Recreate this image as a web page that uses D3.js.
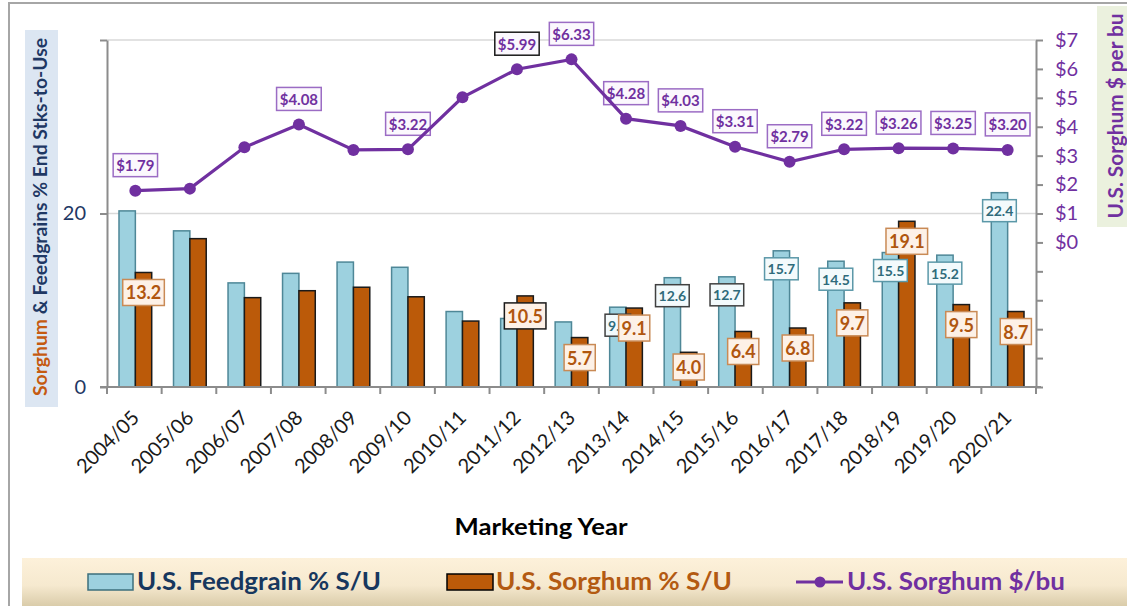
<!DOCTYPE html>
<html>
<head>
<meta charset="utf-8">
<script src="https://cdn.jsdelivr.net/npm/d3@7"></script>
<style>
  html, body { margin: 0; padding: 0; background: #fff; }
  svg { display: block; font-family: Lato, "Open Sans", sans-serif; }
</style>
</head>
<body>
<svg id="chart" width="1127" height="606"></svg>
<script>
const categories = ['2004/05','2005/06','2006/07','2007/08','2008/09','2009/10','2010/11','2011/12','2012/13','2013/14','2014/15','2015/16','2016/17','2017/18','2018/19','2019/20','2020/21'];
const feedgrainSU = [20.3, 18.0, 12.0, 13.1, 14.4, 13.8, 8.7, 7.9, 7.5, 9.2, 12.6, 12.7, 15.7, 14.5, 15.5, 15.2, 22.4];
const sorghumSU   = [13.2, 17.1, 10.3, 11.1, 11.5, 10.4, 7.6, 10.5, 5.7, 9.1, 4.0, 6.4, 6.8, 9.7, 19.1, 9.5, 8.7];
const sorghumPrice = [1.79, 1.86, 3.29, 4.08, 3.20, 3.22, 5.02, 5.99, 6.33, 4.28, 4.03, 3.31, 2.79, 3.22, 3.26, 3.25, 3.20];
const feedgrainLabeled = [false,false,false,false,false,false,false,false,false,true,true,true,true,true,true,true,true];
const sorghumLabeled   = [true,false,false,false,false,false,false,true,true,true,true,true,true,true,true,true,true];
const priceLabeled     = [true,false,false,true,false,true,false,true,true,true,true,true,true,true,true,true,true];
const leftTicks = [0, 20, 40];
const leftTickLabels = ['0', '20', ''];
const rightTicks = [-5,-4,-3,-2,-1,0,1,2,3,4,5,6,7];
const seriesNames = ['U.S. Feedgrain % S/U', 'U.S. Sorghum % S/U', 'U.S. Sorghum $/bu'];

const C = {
  fgFill: '#9dd1df', fgStroke: '#4e8797',
  sgFill: '#bb5a09', sgStroke: '#1a1a1a',
  purple: '#7030a0', navy: '#1f3864', orange: '#c55a11',
  axis: '#8c8c8c', grid: '#d9d9d9'
};

const svg = d3.select('#chart');
const plot = { left: 107, right: 1036, top: 40, bottom: 387 };

// outer frame
svg.append('path').attr('d', 'M9,612 L9,3 L1130,3')
  .attr('fill', 'none').attr('stroke', '#a6a6a6').attr('stroke-width', 2);

// scales
const x = d3.scaleBand().domain(categories).range([plot.left, plot.right])
  .paddingInner(0.4).paddingOuter(0.22);
const xs = d3.scaleBand().domain(['fg', 'sg']).range([0, x.bandwidth()]);
const yL = d3.scaleLinear().domain([0, 40]).range([plot.bottom, plot.top]);
const yR = d3.scaleLinear().domain([-5, 7]).range([plot.bottom, plot.top]);
const cx = c => x(c) + x.bandwidth() / 2;

// gridlines
svg.append('g').selectAll('line').data(leftTicks.filter(d => d > 0)).join('line')
  .attr('x1', plot.left).attr('x2', plot.right)
  .attr('y1', d => yL(d)).attr('y2', d => yL(d))
  .attr('stroke', C.grid).attr('stroke-width', 1.5);

// left axis
const gL = svg.append('g').attr('transform', `translate(${plot.left},0)`)
  .call(d3.axisLeft(yL).tickValues(leftTicks).tickSize(7).tickSizeOuter(0).tickPadding(14)
    .tickFormat((d, i) => leftTickLabels[i]));
gL.select('.domain').attr('stroke', C.axis).attr('stroke-width', 2);
gL.selectAll('.tick line').attr('stroke', C.axis).attr('stroke-width', 2);
gL.selectAll('.tick text').attr('fill', C.navy).attr('font-size', 20).attr('font-family', 'Lato');

// right axis
const gR = svg.append('g').attr('transform', `translate(${plot.right},0)`)
  .call(d3.axisRight(yR).tickValues(rightTicks).tickSize(7).tickSizeOuter(0).tickPadding(12)
    .tickFormat(d => d >= 0 ? '$' + d : ''));
gR.select('.domain').attr('stroke', C.axis).attr('stroke-width', 2);
gR.selectAll('.tick line').attr('stroke', C.axis).attr('stroke-width', 2);
gR.selectAll('.tick text').attr('fill', C.purple).attr('font-size', 20).attr('font-family', 'Lato');

// bars
const barG = svg.append('g');
barG.selectAll('rect.fg').data(categories).join('rect').attr('class', 'fg')
  .attr('x', c => x(c) + xs('fg')).attr('width', xs.bandwidth())
  .attr('y', (c, i) => yL(feedgrainSU[i])).attr('height', (c, i) => yL(0) - yL(feedgrainSU[i]))
  .attr('fill', C.fgFill).attr('stroke', C.fgStroke).attr('stroke-width', 1.5);
barG.selectAll('rect.sg').data(categories).join('rect').attr('class', 'sg')
  .attr('x', c => x(c) + xs('sg')).attr('width', xs.bandwidth())
  .attr('y', (c, i) => yL(sorghumSU[i])).attr('height', (c, i) => yL(0) - yL(sorghumSU[i]))
  .attr('fill', C.sgFill).attr('stroke', C.sgStroke).attr('stroke-width', 1.5);

// bottom axis
svg.append('line').attr('x1', plot.left - 7).attr('x2', plot.right + 5)
  .attr('y1', plot.bottom).attr('y2', plot.bottom).attr('stroke', C.axis).attr('stroke-width', 2);
const boundaries = d3.range(categories.length + 1).map(i => plot.left + i * x.step() * (plot.right - plot.left) / (x.step() * categories.length));
svg.append('g').selectAll('line').data(boundaries).join('line')
  .attr('x1', d => d).attr('x2', d => d).attr('y1', plot.bottom).attr('y2', plot.bottom + 7)
  .attr('stroke', C.axis).attr('stroke-width', 2);
svg.append('g').selectAll('text').data(categories).join('text')
  .attr('transform', c => `translate(${cx(c) + 5},${plot.bottom + 32}) rotate(-45)`)
  .attr('text-anchor', 'end').attr('font-size', 20).attr('fill', '#1a1a1a').text(c => c);

// label helper
function boxLabel(g, text, cxp, cyp, opts) {
  const grp = g.append('g');
  const rect = grp.append('rect');
  const t = grp.append('text').attr('x', cxp).attr('y', cyp).attr('text-anchor', 'middle')
    .attr('dominant-baseline', 'central').attr('font-weight', 'bold')
    .attr('font-size', opts.size).attr('fill', opts.color).text(text);
  const bb = t.node().getBBox();
  const w = bb.width + opts.padX * 2;
  rect.attr('x', cxp - w / 2).attr('y', cyp - opts.h / 2).attr('width', w).attr('height', opts.h)
    .attr('fill', opts.fill).attr('stroke', opts.stroke).attr('stroke-width', 1.5);
}

// feedgrain labels
const labG = svg.append('g');
const darkFG = new Set(['2013/14', '2014/15', '2015/16']);
categories.forEach((c, i) => {
  if (!feedgrainLabeled[i]) return;
  const xc = x(c) + xs('fg') + xs.bandwidth() / 2;
  const yc = Math.min(yL(feedgrainSU[i]) + 18, yL(0) - 18);
  boxLabel(labG, feedgrainSU[i].toFixed(1), xc, yc, {
    size: 14, color: '#2f6b7b', h: 22, padX: 3, fill: '#f3fafc',
    stroke: darkFG.has(c) ? '#404040' : '#5b98a8'
  });
});
// sorghum labels
categories.forEach((c, i) => {
  if (!sorghumLabeled[i]) return;
  const xc = x(c) + xs('sg') + xs.bandwidth() / 2;
  const yc = Math.min(yL(sorghumSU[i]) + 20, yL(0) - 20);
  boxLabel(labG, sorghumSU[i].toFixed(1), xc, yc, {
    size: 18, color: '#b0560f', h: 26, padX: 3, fill: '#fdf1e7',
    stroke: c === '2011/12' ? '#1a1a1a' : '#c98a55'
  });
});

// price line
const line = d3.line().x((d, i) => cx(categories[i])).y(d => yR(d));
svg.append('path').datum(sorghumPrice).attr('d', line)
  .attr('fill', 'none').attr('stroke', C.purple).attr('stroke-width', 3.2);
svg.append('g').selectAll('circle').data(sorghumPrice).join('circle')
  .attr('cx', (d, i) => cx(categories[i])).attr('cy', d => yR(d)).attr('r', 6)
  .attr('fill', C.purple);
categories.forEach((c, i) => {
  if (!priceLabeled[i]) return;
  const yc = yR(sorghumPrice[i]) - 14 - 11.5;
  boxLabel(labG, '$' + sorghumPrice[i].toFixed(2), cx(c), yc, {
    size: 15, color: C.purple, h: 23, padX: 3, fill: '#fbf8fd',
    stroke: c === '2011/12' ? '#1a1a1a' : '#9b6cc4'
  });
});

// left title
svg.append('rect').attr('x', 25).attr('y', 30).attr('width', 33).attr('height', 377).attr('fill', '#dce6f2');
const lt = svg.append('text').attr('transform', 'translate(47,217) rotate(-90)')
  .attr('text-anchor', 'middle').attr('font-weight', 'bold').attr('font-size', 18)
  .attr('textLength', 358).attr('lengthAdjust', 'spacingAndGlyphs');
lt.append('tspan').attr('fill', C.orange).text('Sorghum');
lt.append('tspan').attr('fill', C.navy).text(' & Feedgrains % End Stks-to-Use');

// right title
svg.append('rect').attr('x', 1097).attr('y', 6).attr('width', 32).attr('height', 221).attr('fill', '#ebf1de');
svg.append('text').attr('transform', 'translate(1123,116) rotate(-90)')
  .attr('text-anchor', 'middle').attr('font-weight', 'bold').attr('font-size', 20)
  .attr('fill', C.purple).attr('textLength', 205).attr('lengthAdjust', 'spacingAndGlyphs')
  .text('U.S. Sorghum $ per bu');

// x title
svg.append('text').attr('x', 541).attr('y', 535).attr('text-anchor', 'middle')
  .attr('font-weight', 'bold').attr('font-size', 23).attr('fill', '#000')
  .attr('textLength', 173).attr('lengthAdjust', 'spacingAndGlyphs').text('Marketing Year');

// legend
const defs = svg.append('defs');
const grad = defs.append('linearGradient').attr('id', 'lg').attr('x1', 0).attr('x2', 0).attr('y1', 0).attr('y2', 1);
grad.append('stop').attr('offset', '0%').attr('stop-color', '#fdf1da');
grad.append('stop').attr('offset', '55%').attr('stop-color', '#f6e9cf');
grad.append('stop').attr('offset', '100%').attr('stop-color', '#d7c9a6');
svg.append('rect').attr('x', 22).attr('y', 558).attr('width', 1110).attr('height', 50).attr('fill', 'url(#lg)');

const leg = svg.append('g');
leg.append('rect').attr('x', 88).attr('y', 574).attr('width', 45).attr('height', 16)
  .attr('fill', C.fgFill).attr('stroke', '#3d6f7c').attr('stroke-width', 1.5);
leg.append('text').attr('x', 137).attr('y', 590).attr('font-weight', 'bold').attr('font-size', 25)
  .attr('fill', '#17375e').attr('textLength', 244).attr('lengthAdjust', 'spacingAndGlyphs').text(seriesNames[0]);
leg.append('rect').attr('x', 447).attr('y', 574).attr('width', 46).attr('height', 16)
  .attr('fill', C.sgFill).attr('stroke', '#000').attr('stroke-width', 1.5);
leg.append('text').attr('x', 496).attr('y', 590).attr('font-weight', 'bold').attr('font-size', 25)
  .attr('fill', '#b35a12').attr('textLength', 236).attr('lengthAdjust', 'spacingAndGlyphs').text(seriesNames[1]);
leg.append('line').attr('x1', 796).attr('x2', 843).attr('y1', 582).attr('y2', 582)
  .attr('stroke', C.purple).attr('stroke-width', 3.2);
leg.append('circle').attr('cx', 820).attr('cy', 582).attr('r', 5.5).attr('fill', C.purple);
leg.append('text').attr('x', 847).attr('y', 590).attr('font-weight', 'bold').attr('font-size', 25)
  .attr('fill', C.purple).attr('textLength', 218).attr('lengthAdjust', 'spacingAndGlyphs').text(seriesNames[2]);
</script>
</body>
</html>
